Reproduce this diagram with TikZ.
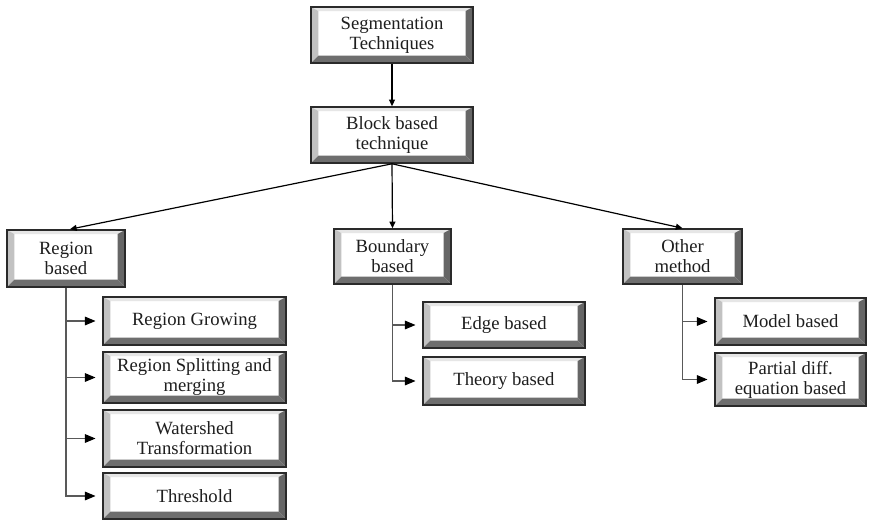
\documentclass[tikz,border=0pt]{standalone}
\usepackage{fontspec}
\setmainfont{Liberation Serif}
\usetikzlibrary{arrows.meta}
\definecolor{bvtop}{HTML}{E6E6E6}
\definecolor{bvleft}{HTML}{C2C2C2}
\definecolor{bvright}{HTML}{666666}
\definecolor{bvbottom}{HTML}{6E6E6E}
\definecolor{bvframe}{HTML}{2A2A2A}
\definecolor{txt}{HTML}{1E1E1E}
\tikzset{
  bevbox/.style={
    draw=bvframe, line width=1.2pt, fill=white, align=center, inner sep=2pt,
    text=txt, font=\fontsize{14}{15}\selectfont,
    path picture={
      \path (path picture bounding box.north west) coordinate (bNW)
            (path picture bounding box.north east) coordinate (bNE)
            (path picture bounding box.south west) coordinate (bSW)
            (path picture bounding box.south east) coordinate (bSE);
      % top bevel
      \fill[bvtop] (bNW) -- (bNE) -- ([shift={(-5.5pt,-3pt)}]bNE) -- ([shift={(5.5pt,-3pt)}]bNW) -- cycle;
      % left bevel
      \fill[bvleft] (bNW) -- ([shift={(5.5pt,-3pt)}]bNW) -- ([shift={(5.5pt,5.5pt)}]bSW) -- (bSW) -- cycle;
      % right bevel
      \fill[bvright] (bNE) -- ([shift={(-5.5pt,-3pt)}]bNE) -- ([shift={(-5.5pt,5.5pt)}]bSE) -- (bSE) -- cycle;
      % bottom bevel
      \fill[bvbottom] (bSW) -- ([shift={(5.5pt,5.5pt)}]bSW) -- ([shift={(-5.5pt,5.5pt)}]bSE) -- (bSE) -- cycle;
    }
  },
  mainarrow/.style={draw=black, line width=0.9pt, -{Triangle[length=5pt,width=4.5pt]}},
  brancharrow/.style={draw=black!65, line width=0.8pt,
    -{Triangle[length=8pt,width=6.5pt,color=black]}, shorten >=5pt},
}
\begin{document}
\begin{tikzpicture}[x=0.75pt,y=-0.75pt]
\useasboundingbox (0,0) rectangle (871,521);

% top of the hierarchy
\node[bevbox, minimum width=121.5pt, minimum height=42pt] (seg) at (392,35) {Segmentation\\Techniques};
\node[bevbox, minimum width=121.5pt, minimum height=42pt] (block) at (392,135) {Block based\\technique};

% three families
\node[bevbox, minimum width=88.5pt, minimum height=42.75pt] (region) at (66,258.5) {Region\\based};
\node[bevbox, minimum width=87.75pt, minimum height=41.25pt] (boundary) at (392.5,256.5) {Boundary\\based};
\node[bevbox, minimum width=89.25pt, minimum height=41.25pt] (other) at (682.5,256.5) {Other\\method};

% region based methods
\node[bevbox, minimum width=137.25pt, minimum height=36pt] (rgrow) at (194.5,321) {Region Growing};
\node[bevbox, minimum width=137.25pt, minimum height=38.25pt] (rsplit) at (194.5,377.5) {Region Splitting and\\merging};
\node[bevbox, minimum width=137.25pt, minimum height=42.75pt] (wshed) at (194.5,438.5) {Watershed\\Transformation};
\node[bevbox, minimum width=137.25pt, minimum height=34.5pt] (thresh) at (194.5,496) {Threshold};

% boundary based methods
\node[bevbox, minimum width=121.5pt, minimum height=34.5pt] (edge) at (504,325) {Edge based};
\node[bevbox, minimum width=121.5pt, minimum height=36pt] (theory) at (504,381) {Theory based};

% other methods
\node[bevbox, minimum width=113.25pt, minimum height=35.25pt] (model) at (790.5,321.5) {Model based};
\node[bevbox, minimum width=113.25pt, minimum height=39.75pt] (pde) at (790.5,379.5) {Partial diff.\\equation based};

% main connectors
\draw[mainarrow] (seg.south) -- (block.north);
\draw[mainarrow] (block.south) -- ([xshift=3pt]region.north);
\draw[mainarrow] (block.south) -- (boundary.north);
\draw[mainarrow] (block.south) -- (other.north);

% branch connectors
\foreach \c in {rgrow,rsplit,wshed,thresh}
  \draw[brancharrow] (region.south) |- (\c.west);
\foreach \c in {edge,theory}
  \draw[brancharrow] (boundary.south) |- (\c.west);
\foreach \c in {model,pde}
  \draw[brancharrow] (other.south) |- (\c.west);
\end{tikzpicture}
\end{document}
